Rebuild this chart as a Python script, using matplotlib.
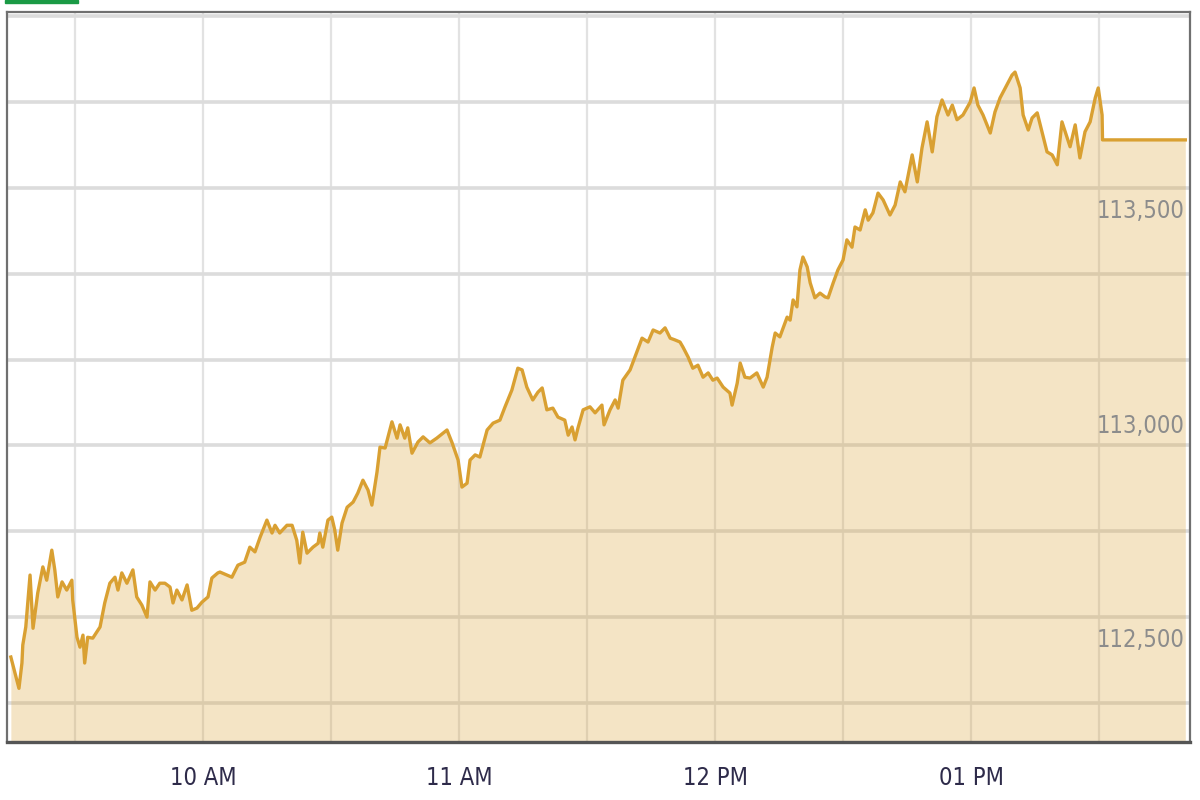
import matplotlib.pyplot as plt
from matplotlib.patches import Rectangle

# minutes after 09:00 and index level
minutes = [15.0, 16.9, 17.6, 17.8, 18.5, 19.5, 20.2, 21.3, 22.5, 23.4, 24.6, 25.3, 26.0, 27.0, 28.1, 29.3,
           29.5, 30.5, 31.2, 31.9, 32.3, 33.0, 34.2, 35.9, 37.0, 38.2, 39.4, 40.1, 41.0, 42.2, 43.6, 44.5,
           45.7, 46.9, 47.6, 48.8, 49.9, 51.1, 52.3, 53.0, 53.9, 55.1, 56.3, 57.4, 58.6, 59.8, 61.2, 62.1,
           63.5, 64.0, 66.8, 68.2, 69.8, 71.0, 72.2, 73.4, 75.0, 76.2, 76.9, 78.0, 79.7, 80.9, 82.0, 82.7,
           83.4, 84.4, 85.8, 87.0, 87.4, 88.1, 89.3, 90.2, 90.9, 91.6, 92.6, 93.8, 95.2, 96.3, 97.5, 98.7,
           99.6, 100.8, 101.5, 102.7, 104.3, 105.5, 106.2, 107.3, 108.0, 109.0, 110.4, 111.6, 113.2, 114.8,
           117.2, 118.4, 119.8, 120.7, 121.9, 122.6, 123.8, 124.9, 126.6, 128.0, 129.6, 130.8, 132.4, 133.8,
           134.8, 135.9, 137.3, 138.5, 139.5, 140.6, 142.0, 143.2, 144.8, 145.6, 146.5, 147.2, 147.9, 149.1,
           150.7, 151.9, 153.5, 154.0, 155.4, 156.6, 157.3, 158.4, 160.1, 161.7, 162.9, 164.3, 165.5, 167.1,
           168.3, 169.5, 170.6, 171.8, 172.5, 173.7, 174.8, 176.0, 177.2, 178.4, 179.5, 180.5, 181.9, 183.5,
           184.0, 185.2, 185.9, 187.0, 188.2, 189.8, 191.3, 192.2, 193.4, 194.1, 195.2, 196.9, 197.6, 198.3,
           199.2, 199.9, 200.6, 201.6, 202.3, 203.4, 204.6, 205.8, 206.5, 207.7, 208.8, 210.0, 210.9, 212.1,
           212.8, 214.0, 215.2, 215.9, 217.0, 218.2, 219.4, 221.0, 222.2, 223.4, 224.5, 226.2, 227.4, 228.5,
           229.7, 230.9, 232.0, 233.2, 234.6, 235.6, 236.7, 238.1, 239.8, 240.7, 241.6, 242.8, 244.5, 245.6,
           246.8, 248.4, 249.6, 250.3, 251.5, 252.2, 253.4, 254.3, 255.5, 256.6, 257.8, 259.0, 260.2, 261.3,
           262.5, 263.2, 264.4, 265.5, 266.7, 267.9, 269.1, 269.8, 270.7, 270.8, 290.2]
index = [112407, 112334, 112393, 112435, 112477, 112598, 112474, 112556, 112617, 112586, 112656, 112610,
         112547, 112582, 112563, 112586, 112540, 112453, 112430, 112458, 112393, 112453, 112451, 112477,
         112533, 112579, 112593, 112563, 112603, 112579, 112610, 112547, 112528, 112500, 112582, 112563,
         112579, 112579, 112570, 112533, 112563, 112540, 112575, 112516, 112521, 112535, 112547, 112591,
         112603, 112605, 112593, 112621, 112628, 112663, 112652, 112686, 112726, 112696, 112714, 112696,
         112714, 112714, 112679, 112626, 112698, 112649, 112663, 112672, 112696, 112663, 112726, 112733,
         112703, 112656, 112719, 112756, 112768, 112789, 112819, 112796, 112761, 112838, 112896, 112894,
         112955, 112917, 112948, 112917, 112941, 112882, 112908, 112920, 112906, 112917, 112936, 112906,
         112866, 112803, 112812, 112866, 112878, 112873, 112936, 112952, 112959, 112990, 113029, 113080,
         113076, 113036, 113006, 113024, 113034, 112983, 112987, 112966, 112959, 112924, 112943, 112913,
         112941, 112983, 112990, 112976, 112994, 112948, 112983, 113006, 112987, 113052, 113076, 113118,
         113150, 113141, 113169, 113162, 113174, 113150, 113146, 113141, 113129, 113106, 113080, 113087,
         113059, 113069, 113052, 113057, 113036, 113022, 112994, 113045, 113092, 113059, 113057, 113069,
         113036, 113059, 113129, 113162, 113153, 113199, 113192, 113239, 113223, 113309, 113339, 113316,
         113279, 113244, 113255, 113246, 113244, 113279, 113309, 113332, 113379, 113362, 113409, 113402,
         113449, 113425, 113442, 113488, 113472, 113437, 113460, 113514, 113491, 113577, 113514, 113593,
         113654, 113584, 113666, 113705, 113670, 113693, 113659, 113670, 113700, 113733, 113693, 113670,
         113628, 113677, 113710, 113740, 113763, 113770, 113733, 113670, 113635, 113663, 113675, 113631,
         113584, 113577, 113554, 113654, 113617, 113596, 113647, 113570, 113631, 113654, 113710, 113733,
         113670, 113612, 113612]

hour_ticks = [60, 120, 180, 240]
hour_labels = ["10 AM", "11 AM", "12 PM", "01 PM"]
level_labels = [112500, 113000, 113500]

gold = "#d9a032"
narrow = ["DejaVu Sans"]

fig = plt.figure(figsize=(12, 8), dpi=100)
ax = fig.add_axes([7 / 1200, 58 / 800, 1183 / 1200, 730 / 800])

ax.set_xlim(14.1, 291.3)
ax.set_ylim(112209, 113910)

# grid
for m in range(30, 291, 30):
    ax.axvline(m, color="#e2e2e2", lw=1.6, zorder=1)
for v in range(112300, 113901, 200):
    ax.axhline(v, color="#dcdcdc", lw=2.6, zorder=1)

ax.fill_between(minutes, index, 112000, color=gold, alpha=0.28, lw=0, zorder=2)
ax.plot(minutes, index, color=gold, lw=2.4, zorder=3)

ax.set_xticks(hour_ticks)
ax.set_xticklabels(hour_labels, family=narrow, fontstretch="condensed", fontsize=17, color="#2e2b4a")
ax.tick_params(axis="x", length=0, pad=17)
ax.set_yticks([])

for v in level_labels:
    ax.annotate(f"{v:,}", xy=(1, v), xycoords=("axes fraction", "data"),
                xytext=(-4, -8), textcoords="offset points", ha="right", va="top",
                family=narrow, fontstretch="condensed", fontsize=17, color="#8c8c8c", zorder=4)

for side, sp in ax.spines.items():
    sp.set_color("#707070")
    sp.set_linewidth(1.6)
ax.spines["bottom"].set_color("#555555")
ax.spines["bottom"].set_linewidth(2.4)

fig.patches.append(Rectangle((5 / 1200, 797 / 800), 73 / 1200, 3 / 800,
                             transform=fig.transFigure, color="#1a9a45"))

fig.savefig("out.png", dpi=100)
